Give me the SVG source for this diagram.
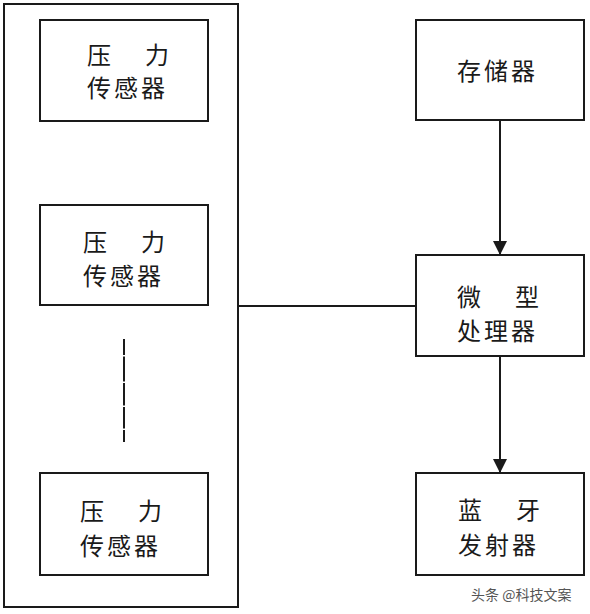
<svg xmlns="http://www.w3.org/2000/svg" width="590" height="614" viewBox="0 0 590 614">
<style>
.box{fill:#fff;stroke:#1a1a1a;stroke-width:2}
.t{font-family:"Noto Sans CJK SC","Noto Sans",sans-serif;font-size:24px;fill:#1a1a1a}
.ln{stroke:#1a1a1a;stroke-width:2;fill:none}
.wm{font-family:"Noto Sans CJK SC","Noto Sans",sans-serif;font-size:14px;fill:#555}
</style>
<defs>
<marker id="arr" markerWidth="14" markerHeight="14" refX="13" refY="7" orient="auto" markerUnits="userSpaceOnUse">
<path d="M0,0 L14,7 L0,14 Z" fill="#1a1a1a"/>
</marker>
</defs>
<rect width="590" height="614" fill="#fff"/>
<g id="group">
<rect class="box" x="4" y="4" width="234" height="603"/>
</g>
<g id="sensor1">
<rect class="box" x="40" y="20" width="168" height="101"/>
<text class="t" x="87 121 145" y="64">压 力</text>
<text class="t" x="87 114 141" y="97">传感器</text>
</g>
<g id="sensor2">
<rect class="box" x="40" y="205" width="168" height="100"/>
<text class="t" x="83 117 141" y="251">压 力</text>
<text class="t" x="83 110 137" y="285">传感器</text>
</g>
<g id="ellipsis">
<path class="ln" d="M124,339 V355 M124,356.5 V381.5 M124,383 V405.5 M124,407 V428.5 M124,430 V442"/>
</g>
<g id="sensor3">
<rect class="box" x="40" y="473" width="168" height="102"/>
<text class="t" x="80 114 138" y="520">压 力</text>
<text class="t" x="80 107 134" y="555">传感器</text>
</g>
<g id="memory">
<rect class="box" x="416" y="20" width="168" height="100"/>
<text class="t" x="457 484 511" y="80">存储器</text>
</g>
<g id="mcu">
<rect class="box" x="416" y="255" width="168" height="101"/>
<text class="t" x="457 491 515" y="306">微 型</text>
<text class="t" x="457 484 511" y="340">处理器</text>
</g>
<g id="bt">
<rect class="box" x="416" y="473" width="168" height="102"/>
<text class="t" x="458 492 516" y="519">蓝 牙</text>
<text class="t" x="458 485 512" y="554">发射器</text>
</g>
<g id="connectors">
<line class="ln" x1="238" y1="306" x2="416" y2="306"/>
<line class="ln" x1="500" y1="120" x2="500" y2="254" marker-end="url(#arr)"/>
<line class="ln" x1="500" y1="356" x2="500" y2="472" marker-end="url(#arr)"/>
</g>
<text class="wm" x="471" y="600">头条 @科技文案</text>
</svg>
